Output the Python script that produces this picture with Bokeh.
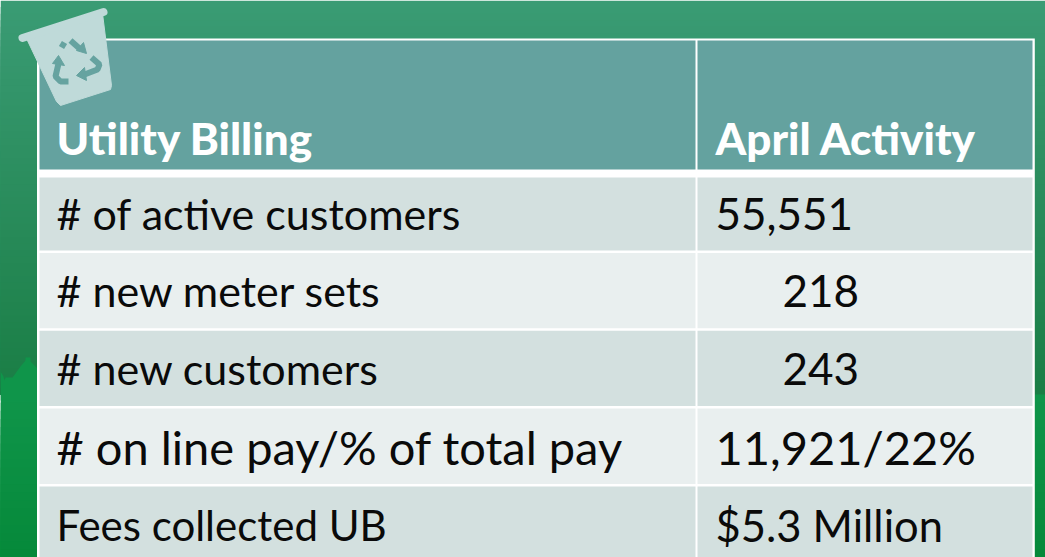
from bokeh.plotting import figure
from bokeh.models import Range1d
from bokeh.core.properties import value
from bokeh.embed import file_html
from bokeh.resources import INLINE

# ---- table content
header = ["Utility Billing", "April Activity"]
labels = ["# of active customers", "# new meter sets", "# new customers",
          "# on line pay/% of total pay", "Fees collected UB"]
values = ["55,551", "218", "243", "11,921/22%", "$5.3 Million"]

# ---- layout (pixels of the reference)
row_tops = [177, 252.5, 330.3, 408, 486]
row_bottoms = [250, 327.8, 405.5, 483.4, 560]
baselines = [229, 306, 384, 462, 540]
value_x = [715, 782, 782, 715, 715]
label_sizes = ["43px", "43px", "43px", "47px", "42px"]
value_sizes = ["44px", "44px", "44px", "47px", "43.5px"]
FONT = "Lato"
HEAD_SIZE = "44px"

p = figure(width=1045, height=557, output_backend="svg", toolbar_location=None,
           x_range=Range1d(0, 1045), y_range=Range1d(557, 0),
           min_border=0, outline_line_color=None)
p.axis.visible = False
p.grid.visible = False

def lerp(c1, c2, t):
    return "#%02x%02x%02x" % tuple(round(a + (b - a) * t) for a, b in zip(c1, c2))

# background gradient
top_c, mid_c = (0x3A, 0x9B, 0x74), (0x1A, 0x7E, 0x45)
low_a, low_b = (0x0F, 0x95, 0x4A), (0x06, 0x89, 0x3A)
N = 60
p.quad(left=0, right=1045,
       top=[394 * i / N for i in range(N)],
       bottom=[394] * N,
       fill_color=[lerp(top_c, mid_c, i / (N - 1)) for i in range(N)], line_color=None)
p.quad(left=0, right=1045,
       top=[394 + 163 * i / 20 for i in range(20)],
       bottom=[557] * 20,
       fill_color=[lerp(low_a, low_b, i / 19) for i in range(20)], line_color=None)
# skyline on the left edge
p.patch([0, 3, 4, 5, 12, 20, 25, 25, 30, 30, 37, 37, 0],
        [371, 376, 380, 377, 377, 366, 360, 357, 357, 361, 368, 400, 400],
        fill_color="#0f954a", line_color=None)

# table frame
p.quad(left=[36.5], right=[1034.3], top=[38], bottom=[560], fill_color="white", line_color=None)
p.quad(left=[39, 697], right=[695, 1032], top=[40, 40], bottom=[169, 169],
       fill_color="#64a29f", line_color=None)
colors = ["#d3e0df", "#e9efef", "#d3e0df", "#e9efef", "#d3e0df"]
p.quad(left=39, right=695, top=row_tops, bottom=row_bottoms, fill_color=colors, line_color=None)
p.quad(left=697, right=1032, top=row_tops, bottom=row_bottoms, fill_color=colors, line_color=None)

# texts
p.text(x=[56, 715], y=[153, 153], text=header, text_color="white", text_font=value("Lato Black"),
       text_font_size=HEAD_SIZE, text_baseline="alphabetic", y_offset=-16)
p.text(x=[56] * 5, y=baselines, text=labels, text_color="#0a0a0a", text_font=value(FONT),
       text_font_size=label_sizes, text_baseline="alphabetic", y_offset=-16)
p.text(x=value_x, y=baselines, text=values, text_color="#0a0a0a", text_font=value(FONT),
       text_font_size=value_sizes, text_baseline="alphabetic", y_offset=-16)

# recycling bin icon
BIN = "#bfdad9"
ARROW = "#66a3a0"
p.patch([26, 102, 111, 110, 60, 56], [38, 13, 85, 89, 105, 101], fill_color=BIN, line_color=BIN, line_width=1)
p.line([22, 103], [37.5, 11.5], line_color=BIN, line_width=8, line_cap="round")
p.multi_line([[61, 64], [70, 79], [91, 99, 97, 84], [68, 60, 55, 58]],
             [[47, 42], [40, 48], [57, 64, 69, 74], [81, 81, 76, 63]],
             line_color=ARROW, line_width=6)
p.patches([[86, 83, 76], [76, 84, 86], [58, 52, 64]],
          [[53, 42, 50], [75, 67, 80], [55, 63, 65]],
          fill_color=ARROW, line_color=ARROW, line_width=1)

open("out.html", "w").write(file_html(p, INLINE))
